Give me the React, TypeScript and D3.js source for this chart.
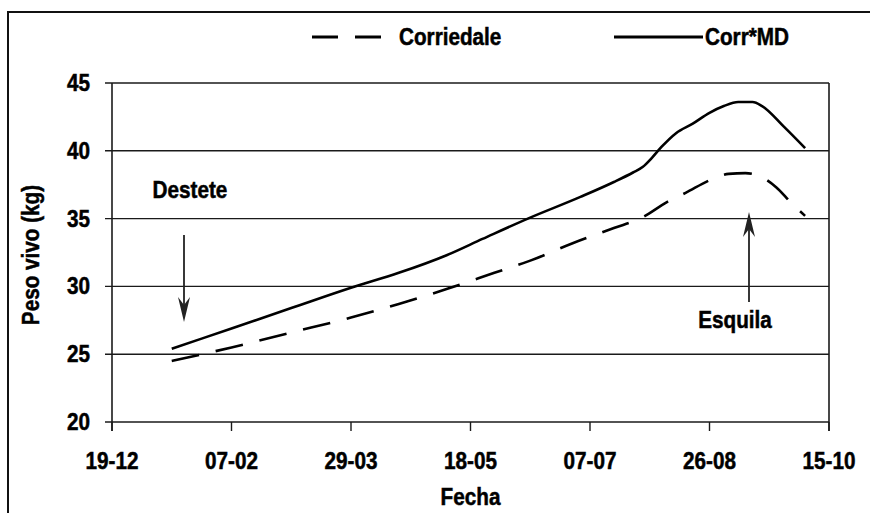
import React from "react";
import * as d3 from "d3";

const xTickDays = [0, 50, 100, 150, 200, 250, 300];
const xTickLabels = ["19-12", "07-02", "29-03", "18-05", "07-07", "26-08", "15-10"];
const yTicks = [20, 25, 30, 35, 40, 45];

const corrDays = [25, 50, 75, 100, 120, 140, 160, 175, 193, 210, 222, 232, 240, 251, 258, 265, 270, 278, 284, 290];
const corrValues = [24.5, 25.5, 26.6, 27.7, 28.7, 29.8, 31.0, 31.9, 33.2, 34.3, 35.1, 36.2, 36.9, 37.9, 38.3, 38.35, 38.2, 37.3, 36.2, 35.2];

const crossDays = [25, 50, 75, 100, 120, 140, 155, 174, 196, 210, 218, 222, 226, 230, 236, 243, 250, 256, 262, 268, 272, 281, 290];
const crossValues = [25.4, 26.9, 28.4, 29.9, 31.0, 32.3, 33.5, 35.0, 36.6, 37.7, 38.4, 38.8, 39.5, 40.3, 41.3, 42.0, 42.8, 43.3, 43.6, 43.6, 43.3, 41.8, 40.2];

const FONT = "'Liberation Sans', Arial, sans-serif";
const SX = 0.9;

function Label({ x, y, children, anchor = "middle", rotate = 0 }: any) {
  return (
    <text
      transform={`translate(${x},${y}) rotate(${rotate}) scale(${SX},1)`}
      textAnchor={anchor}
      fontFamily={FONT}
      fontWeight="bold"
      fontSize={23}
      fill="#000"
      stroke="#000"
      strokeWidth={0.5}
    >
      {children}
    </text>
  );
}

export default function App() {
  const x = d3.scaleLinear().domain([0, 300]).range([112, 829]);
  const y = d3.scaleLinear().domain([20, 45]).range([422, 83]);

  const line = d3
    .line<[number, number]>()
    .x((d) => x(d[0]))
    .y((d) => y(d[1]))
    .curve(d3.curveMonotoneX);

  const corrPath = line(corrDays.map((d, i) => [d, corrValues[i]] as [number, number])) || "";
  const crossPath = line(crossDays.map((d, i) => [d, crossValues[i]] as [number, number])) || "";

  const x0 = x(0);
  const x1 = x(300);
  const yTop = y(45);
  const yBot = y(20);

  const dArrowX = 184;
  const dTip = 322;
  const eArrowX = 749;
  const eTip = 212;

  return (
    <svg
      width={870}
      height={513}
      style={{ position: "absolute", left: 0, top: 0, background: "#fff", overflow: "hidden" }}
    >
      <rect x={0} y={0} width={870} height={513} fill="#fff" />
      <rect x={8} y={12} width={900} height={600} fill="none" stroke="#111" strokeWidth={2} />

      {yTicks.map((t) => (
        <line key={t} x1={x0 - 7} x2={x1} y1={y(t)} y2={y(t)} stroke="#1a1a1a" strokeWidth={1.4} />
      ))}
      <line x1={x0} x2={x0} y1={yTop} y2={yBot + 9} stroke="#1a1a1a" strokeWidth={1.6} />
      <line x1={x1} x2={x1} y1={yTop} y2={yBot + 9} stroke="#1a1a1a" strokeWidth={1.6} />
      {xTickDays.map((d) => (
        <line key={d} x1={x(d)} x2={x(d)} y1={yBot} y2={yBot + 9} stroke="#1a1a1a" strokeWidth={1.4} />
      ))}

      {yTicks.map((t) => (
        <Label key={t} x={90} y={y(t) + 8} anchor="end">
          {t}
        </Label>
      ))}
      {xTickDays.map((d, i) => (
        <Label key={d} x={x(d)} y={469}>
          {xTickLabels[i]}
        </Label>
      ))}

      <Label x={x(150)} y={505}>Fecha</Label>
      <Label x={39} y={255} rotate={-90}>Peso vivo (kg)</Label>

      <path d={corrPath} fill="none" stroke="#000" strokeWidth={2.6} strokeDasharray="28,17" />
      <path d={crossPath} fill="none" stroke="#000" strokeWidth={2.6} />

      <line x1={312} x2={382} y1={37} y2={37} stroke="#000" strokeWidth={3} strokeDasharray="26,17" />
      <Label x={399} y={45} anchor="start">Corriedale</Label>
      <line x1={614} x2={703} y1={37} y2={37} stroke="#000" strokeWidth={3} />
      <Label x={705} y={45} anchor="start">Corr*MD</Label>

      <Label x={190} y={198}>Destete</Label>
      <line x1={dArrowX} x2={dArrowX} y1={235} y2={dTip - 14} stroke="#222" strokeWidth={1.8} />
      <path
        d={`M${dArrowX},${dTip} L${dArrowX - 6},${dTip - 25} L${dArrowX},${dTip - 17} L${dArrowX + 6},${dTip - 25} Z`}
        fill="#222"
      />

      <Label x={735} y={328}>Esquila</Label>
      <line x1={eArrowX} x2={eArrowX} y1={302} y2={eTip + 14} stroke="#222" strokeWidth={1.8} />
      <path
        d={`M${eArrowX},${eTip} L${eArrowX - 6},${eTip + 25} L${eArrowX},${eTip + 17} L${eArrowX + 6},${eTip + 25} Z`}
        fill="#222"
      />
    </svg>
  );
}
